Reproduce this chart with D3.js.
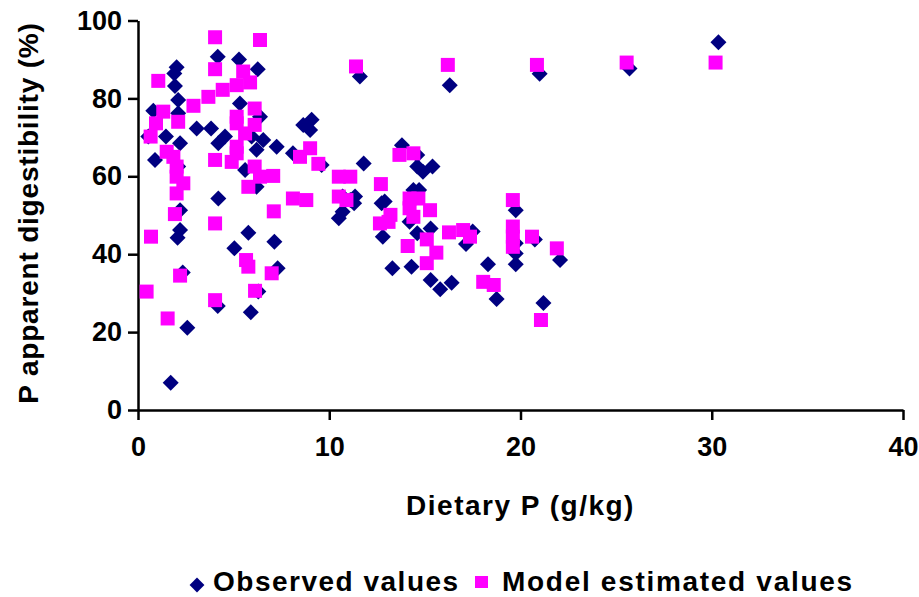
<!DOCTYPE html>
<html>
<head>
<meta charset="utf-8">
<title>P apparent digestibility</title>
<script src="https://cdn.jsdelivr.net/npm/d3@7/dist/d3.min.js"></script>
<style>
	body { margin: 0; background: #fff; }
	svg { display: block; }
	.axis path, .axis line { stroke: #000; stroke-width: 2.5px; }
	.axis text { font-family: "Liberation Sans", Arial, sans-serif; font-weight: bold; font-size: 27px; fill: #000; }
	.title { font-family: "Liberation Sans", Arial, sans-serif; font-weight: bold; font-size: 28px; fill: #000; }
</style>
</head>
<body>
<div id="chartDiv"></div>
<script>

// observed values (dietary P g/kg , digestibility %)
var obsP = [0.8, 0.54, 0.89, 1.46, 1.9, 2.02, 1.93, 2.1, 2.1, 2.2, 2.1, 2.2, 2.2, 2.07, 2.34, 2.58, 1.71,
	3.07, 3.82, 4.17, 4.2, 4.55, 4.2, 4.17, 5.28, 5.33, 5.6, 5.94, 6.2, 6.55, 6.26, 6.38, 6.2, 5.77, 5.04,
	5.9, 6.29, 7.25, 7.13, 7.3, 8.1, 8.64, 9.08, 9.0, 9.6, 10.5, 10.7, 11.3, 10.7, 11.1, 11.35, 11.6, 11.8,
	12.74, 12.9, 12.8, 13.3, 13.8, 14.6, 14.6, 14.9, 15.4, 14.4, 14.7, 14.2, 14.6, 15.3, 14.3, 15.3, 15.8,
	16.4, 16.3, 17.15, 17.5, 18.3, 18.75, 19.75, 19.75, 19.75, 19.75, 20.75, 21.0, 21.2, 22.07, 25.7, 30.35];
var obsDig = [76.8, 70.2, 64.2, 70.2, 86.4, 88.0, 83.2, 79.6, 76.2, 68.5, 62.5, 51.3, 46.2, 44.2, 35.3, 21.1, 7.0,
	72.3, 72.3, 90.7, 68.5, 70.2, 54.3, 26.7, 90.0, 78.7, 61.6, 70.2, 66.8, 69.3, 87.5, 75.3, 57.3, 45.5, 41.5,
	25.1, 30.4, 67.6, 43.2, 36.4, 65.9, 73.2, 74.5, 71.9, 62.9, 49.2, 50.9, 53.1, 54.8, 53.9, 54.8, 85.6, 63.3,
	53.1, 53.5, 44.5, 36.4, 68.0, 65.5, 62.5, 61.2, 62.5, 56.5, 56.5, 48.3, 45.4, 46.6, 36.8, 33.4, 31.0,
	32.7, 83.4, 42.6, 45.8, 37.4, 28.5, 51.3, 42.8, 40.2, 37.4, 43.8, 86.3, 27.5, 38.5, 87.7, 94.4];

// model estimated values
var modP = [0.45, 0.68, 0.66, 0.94, 1.06, 1.32, 1.5, 1.55, 1.85, 1.93, 2.02, 2.02, 2.37, 2.02, 2.1, 2.2,
	2.9, 3.68, 4.03, 4.03, 4.43, 4.03, 4.03, 4.03, 4.9, 5.16, 5.5, 5.86, 5.16, 5.16, 5.16, 5.16, 5.6, 6.1,
	6.1, 6.1, 6.38, 6.38, 5.77, 5.65, 5.77, 6.12, 6.99, 7.07, 7.1, 8.47, 9.0, 9.43, 8.1, 8.8, 10.5, 11.1,
	10.5, 10.9, 11.4, 12.7, 12.65, 13.1, 13.2, 13.67, 14.4, 14.2, 14.66, 14.2, 15.27, 14.4, 14.1, 15.1, 15.6,
	15.1, 16.2, 16.26, 17.0, 17.36, 18.05, 18.6, 19.6, 19.6, 19.6, 19.6, 20.6, 20.86, 21.07, 21.9, 25.55, 30.2];
var modDig = [30.4, 44.5, 70.2, 73.6, 84.5, 76.6, 66.3, 23.5, 65.0, 50.3, 62.5, 59.9, 58.2, 55.6, 74.0, 34.5,
	78.1, 80.4, 95.7, 87.5, 82.2, 64.2, 47.9, 28.2, 63.7, 83.4, 86.9, 84.1, 75.3, 73.6, 67.6, 65.9, 71.0, 77.4,
	73.2, 62.5, 59.9, 95.0, 57.3, 38.5, 36.8, 30.6, 35.1, 60.1, 51.0, 65.0, 67.2, 63.2, 54.3, 53.9, 59.9, 59.9,
	54.8, 53.9, 88.2, 58.0, 47.9, 48.3, 50.1, 65.5, 65.9, 54.3, 54.3, 51.8, 51.3, 49.6, 42.1, 43.8, 40.4,
	37.7, 88.6, 45.6, 46.2, 44.5, 32.9, 32.1, 53.9, 47.1, 44.5, 41.9, 44.5, 88.6, 23.1, 41.5, 89.2, 89.2];

var xTicks = [0, 10, 20, 30, 40];
var yTicks = [0, 20, 40, 60, 80, 100];
var seriesNames = ["Observed values", "Model estimated values"];
var seriesColors = ["#000080", "#FF00FF"];

var svgWidth = 919, svgHeight = 597;
var plotLeft = 138, plotRight = 903, plotTop = 20.5, plotBottom = 410;

var xScale, yScale, chartSVG;

function init() {
	xScale = d3.scaleLinear().domain([0, 40]).range([plotLeft, plotRight]);
	yScale = d3.scaleLinear().domain([0, 100]).range([plotBottom, plotTop]);

	chartSVG = d3.select("#chartDiv").append("svg")
		.attr("width", svgWidth)
		.attr("height", svgHeight)
	;

	drawAxes();
	drawPoints();
	drawLegend();
}

function drawAxes() {
	var xAxis = d3.axisBottom(xScale).tickValues(xTicks).tickSize(10).tickPadding(17).tickSizeOuter(0);
	var yAxis = d3.axisLeft(yScale).tickValues(yTicks).tickSize(10).tickPadding(6).tickSizeOuter(0);

	chartSVG.append("g")
		.attr("class", "axis")
		.attr("transform", "translate(0," + plotBottom + ")")
		.call(xAxis)
	;
	chartSVG.append("g")
		.attr("class", "axis")
		.attr("transform", "translate(" + plotLeft + ",0)")
		.call(yAxis)
	;
	chartSVG.selectAll(".axis text").attr("fill", "#000");

	chartSVG.append("text")
		.attr("class", "title")
		.attr("text-anchor", "middle")
		.attr("x", (plotLeft + plotRight) / 2)
		.attr("y", 515)
		.attr("letter-spacing", "1.5px")
		.text("Dietary P (g/kg)")
	;
	chartSVG.append("text")
		.attr("class", "title")
		.attr("text-anchor", "middle")
		.attr("transform", "translate(38," + 213 + ") rotate(-90)")
		.attr("letter-spacing", "0.8px")
		.text("P apparent digestibility (%)")
	;
}

function drawPoints() {
	var diamond = d3.symbol().type(d3.symbolSquare).size(128);
	var square = d3.symbol().type(d3.symbolSquare).size(196);

	chartSVG.append("g").selectAll("path")
		.data(d3.range(obsP.length)).enter().append("path")
		.attr("d", diamond)
		.attr("fill", seriesColors[0])
		.attr("transform", function (i) {
			return "translate(" + xScale(obsP[i]) + "," + yScale(obsDig[i]) + ") rotate(45)";
		})
	;
	// model estimates are drawn on top
	chartSVG.append("g").selectAll("path")
		.data(d3.range(modP.length)).enter().append("path")
		.attr("d", square)
		.attr("fill", seriesColors[1])
		.attr("transform", function (i) {
			return "translate(" + xScale(modP[i]) + "," + yScale(modDig[i]) + ")";
		})
	;
}

function drawLegend() {
	var legend = chartSVG.append("g");
	legend.append("path")
		.attr("d", d3.symbol().type(d3.symbolSquare).size(110))
		.attr("fill", seriesColors[0])
		.attr("transform", "translate(197,585) rotate(45)")
	;
	legend.append("text")
		.attr("class", "title")
		.attr("x", 213)
		.attr("y", 591)
		.attr("letter-spacing", "1.5px")
		.text(seriesNames[0])
	;
	legend.append("rect")
		.attr("x", 475).attr("y", 576)
		.attr("width", 13).attr("height", 12)
		.attr("fill", seriesColors[1])
	;
	legend.append("text")
		.attr("class", "title")
		.attr("x", 502)
		.attr("y", 591)
		.attr("letter-spacing", "1.7px")
		.text(seriesNames[1])
	;
}

init();
</script>
</body>
</html>
